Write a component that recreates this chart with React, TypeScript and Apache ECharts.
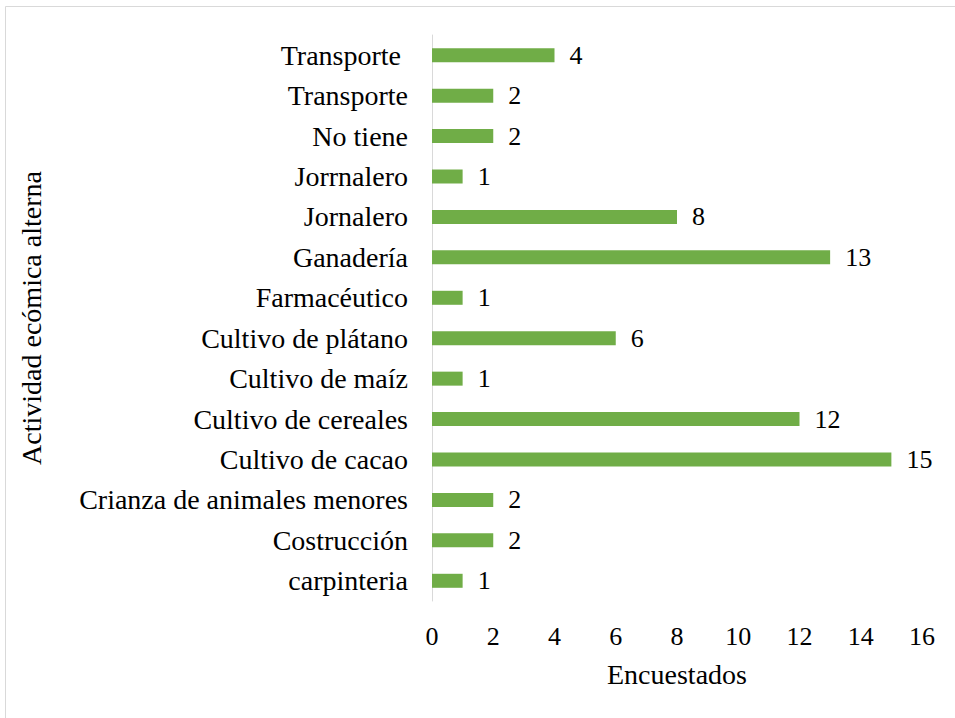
import React, { useEffect, useRef } from "react";
import * as echarts from "echarts";

const categories = [
  "carpinteria",
  "Costrucción",
  "Crianza de animales menores",
  "Cultivo de cacao",
  "Cultivo de cereales",
  "Cultivo de maíz",
  "Cultivo de plátano",
  "Farmacéutico",
  "Ganadería",
  "Jornalero",
  "Jorrnalero",
  "No tiene",
  "Transporte",
  "Transporte ",
];
const values = [1, 2, 2, 15, 12, 1, 6, 1, 13, 8, 1, 2, 2, 4];
const xTicks = { min: 0, max: 16, interval: 2 };

const FONT = "Liberation Serif";
const FS = 28;

export default function App() {
  const ref = useRef<HTMLDivElement>(null);
  useEffect(() => {
    document.body.style.margin = "0";
    const chart = echarts.init(ref.current!, null, { renderer: "svg" });
    chart.setOption({
      animation: false,
      backgroundColor: "#ffffff",
      textStyle: { fontFamily: FONT },
      graphic: [
        {
          type: "rect",
          shape: { x: 5.5, y: 6.5, width: 1000, height: 1000 },
          style: { fill: "none", stroke: "#d9d9d9", lineWidth: 1 },
          silent: true,
        },
      ],
      grid: { left: 432, right: 33, top: 35, bottom: 117, containLabel: false },
      xAxis: {
        type: "value",
        min: xTicks.min,
        max: xTicks.max,
        interval: xTicks.interval,
        name: "Encuestados",
        nameLocation: "middle",
        nameGap: 59,
        nameTextStyle: { fontFamily: FONT, fontSize: FS, color: "#000" },
        axisLine: { show: false },
        axisTick: { show: false },
        splitLine: { show: false },
        axisLabel: { fontFamily: FONT, fontSize: 26, color: "#000", margin: 22 },
      },
      yAxis: {
        type: "category",
        data: categories,
        name: "Actividad ecómica alterna",
        nameLocation: "middle",
        nameGap: 387,
        nameTextStyle: { fontFamily: FONT, fontSize: FS, color: "#000" },
        axisLine: { show: true, lineStyle: { color: "#d9d9d9", width: 1 } },
        axisTick: { show: false },
        axisLabel: { fontFamily: FONT, fontSize: FS, color: "#000", margin: 24 },
      },
      series: [
        {
          type: "bar",
          data: values,
          barWidth: 14,
          itemStyle: { color: "#70ad47" },
          label: {
            show: true,
            position: "right",
            distance: 15,
            fontFamily: FONT,
            fontSize: 26,
            color: "#000",
          },
        },
      ],
    });
    return () => chart.dispose();
  }, []);
  return <div ref={ref} style={{ width: 955, height: 718 }} />;
}
